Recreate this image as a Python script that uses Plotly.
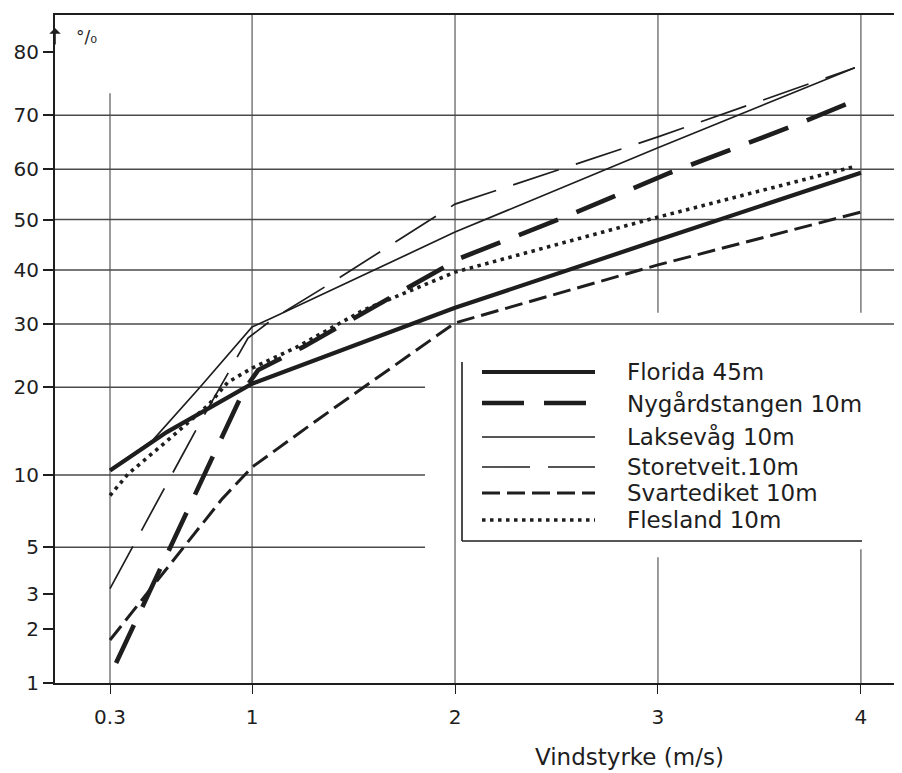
import plotly.graph_objects as go
from statistics import NormalDist

# ---------------- data (wind speed m/s, cumulative percent) ----------------
series_names = ["Florida 45m", "Nygårdstangen 10m", "Laksevåg 10m",
                "Storetveit.10m", "Svartediket 10m", "Flesland 10m"]

florida_x = [0.3, 0.58, 1.0, 2.0, 3.0, 4.0]
florida_y = [10.4, 14.3, 20.5, 32.9, 45.9, 59.3]

nygard_x = [0.33, 0.96, 1.03, 1.25, 1.72, 2.03, 2.54, 3.06, 3.68, 3.98]
nygard_y = [1.3, 19.6, 22.5, 26.1, 35.6, 42.4, 50.5, 59.3, 68.3, 72.6]

laksevag_x = [0.3, 0.51, 0.74, 1.0, 1.1, 2.0, 3.0, 3.97]
laksevag_y = [10.4, 13.4, 19.9, 29.5, 31.1, 47.5, 64.1, 77.7]

storetveit_x = [0.3, 0.75, 0.98, 1.11, 1.36, 2.0, 3.0, 3.97]
storetveit_y = [3.2, 15.7, 27.6, 31.1, 36.8, 53.1, 66.1, 77.7]

svartediket_x = [0.3, 0.85, 1.0, 1.32, 2.0, 3.0, 4.0]
svartediket_y = [1.74, 8.0, 10.7, 15.7, 30.2, 41.0, 51.5]

flesland_x = [0.3, 0.39, 0.585, 0.785, 0.88, 1.0, 1.22, 1.55, 2.0, 3.0, 3.96]
flesland_y = [8.3, 10.1, 13.4, 17.6, 20.7, 22.8, 26.1, 32.5, 39.6, 50.5, 60.4]

x_ticks = [0.3, 1, 2, 3, 4]
x_tick_labels = ["0.3", "1", "2", "3", "4"]
y_ticks = [1, 2, 3, 5, 10, 20, 30, 40, 50, 60, 70, 80]
y_tick_labels = ["1", "2", "3", "5", "10", "20", "30", "40", "50", "60", "70", "80"]

x_title = "Vindstyrke (m/s)"
y_unit = "°/₀"

# ---------------- probability (normal) scale ----------------
nd = NormalDist()


def prob(p):
    return nd.inv_cdf(p / 100.0)


INK = "#1e1e1e"
GRID = "#4a4a4a"
FONT = "DejaVu Sans"

styles = [
    dict(width=4.2, dash="solid"),
    dict(width=4.6, dash="42px,20px"),
    dict(width=1.7, dash="solid"),
    dict(width=1.7, dash="48px,18px"),
    dict(width=3.0, dash="18px,7px"),
    dict(width=3.6, dash="3.5px,4.5px"),
]

data = [(florida_x, florida_y), (nygard_x, nygard_y), (laksevag_x, laksevag_y),
        (storetveit_x, storetveit_y), (svartediket_x, svartediket_y),
        (flesland_x, flesland_y)]

fig = go.Figure()
for name, (xs, ys), st in zip(series_names, data, styles):
    fig.add_trace(go.Scatter(
        x=xs, y=[prob(v) for v in ys], mode="lines", name=name,
        line=dict(color=INK, width=st["width"], dash=st["dash"]),
        showlegend=False, hoverinfo="skip"))

X_MIN, X_MAX = 0.029, 4.2024
Y_MIN, Y_MAX = prob(1.0), 1.0271

shapes = []
# full-width horizontal grid lines
for p in [30, 40, 50, 60, 70]:
    shapes.append(dict(type="line", xref="paper", yref="y", x0=0, x1=1,
                       y0=prob(p), y1=prob(p), layer="below",
                       line=dict(color=GRID, width=1.5)))
# partial horizontal grid lines (stop before legend)
for p in [5, 10, 20]:
    shapes.append(dict(type="line", xref="x", yref="y", x0=X_MIN, x1=1.852,
                       y0=prob(p), y1=prob(p), layer="below",
                       line=dict(color=GRID, width=1.5)))
# vertical grid lines: (x, lower percent, upper percent)
vsegs = [(0.3, None, 73.7), (1, None, None), (2, None, None),
         (3, 32.0, None), (3, None, 4.5), (4, 32.0, None), (4, None, 4.9)]
for xv, lo, hi in vsegs:
    y0 = Y_MIN if lo is None else prob(lo)
    y1 = Y_MAX if hi is None else prob(hi)
    shapes.append(dict(type="line", xref="x", yref="y", x0=xv, x1=xv,
                       y0=y0, y1=y1, layer="below",
                       line=dict(color=GRID, width=1.1)))
# small ticks on right edge
for p in [80, 20, 10, 5, 3, 2]:
    shapes.append(dict(type="line", xref="paper", yref="y", x0=0.993, x1=1.0,
                       y0=prob(p), y1=prob(p),
                       line=dict(color=GRID, width=1.5)))


def px_x(px):
    return (px - 55) / 847.0


def px_y(py):
    return (683 - py) / 668.0


# legend frame (L shape)
shapes.append(dict(type="line", xref="paper", yref="paper",
                   x0=px_x(462), x1=px_x(462), y0=px_y(362), y1=px_y(541),
                   line=dict(color=INK, width=1.6)))
shapes.append(dict(type="line", xref="paper", yref="paper",
                   x0=px_x(462), x1=px_x(862), y0=px_y(541), y1=px_y(541),
                   line=dict(color=INK, width=1.6)))

annotations = []
row_y = [372, 403, 437, 467, 493, 520]
for name, st, ry in zip(series_names, styles, row_y):
    shapes.append(dict(type="line", xref="paper", yref="paper",
                       x0=px_x(482), x1=px_x(595), y0=px_y(ry), y1=px_y(ry),
                       line=dict(color=INK, width=st["width"], dash=st["dash"])))
    annotations.append(dict(xref="paper", yref="paper", x=px_x(625), y=px_y(ry),
                            text=name, showarrow=False, xanchor="left",
                            yanchor="middle",
                            font=dict(family=FONT, size=23, color=INK)))

annotations.append(dict(xref="paper", yref="paper", x=px_x(629), y=px_y(757),
                        text=x_title, showarrow=False, xanchor="center",
                        yanchor="middle",
                        font=dict(family=FONT, size=23, color=INK)))
annotations.append(dict(xref="paper", yref="paper", x=px_x(86), y=px_y(37),
                        text=y_unit, showarrow=False, xanchor="center",
                        yanchor="middle",
                        font=dict(family=FONT, size=17, color=INK)))
annotations.append(dict(xref="paper", yref="paper", x=0, y=px_y(28),
                        text="", showarrow=True, arrowhead=1, arrowsize=1.2,
                        arrowwidth=1.6, arrowcolor=INK, ax=0, ay=18))

# page has an 8px body margin: figure starts at (8, 8) in the window
fig.update_layout(
    width=894, height=765,
    margin=dict(l=47, r=0, t=7, b=90),
    paper_bgcolor="white", plot_bgcolor="white",
    shapes=shapes, annotations=annotations,
    font=dict(family=FONT, color=INK),
    xaxis=dict(range=[X_MIN, X_MAX], tickvals=x_ticks, ticktext=x_tick_labels,
               showgrid=False, zeroline=False, showline=True, linecolor=INK,
               linewidth=2.2, mirror=True, ticks="outside", ticklen=9,
               tickwidth=1.3, tickcolor=INK, ticklabelstandoff=6,
               tickfont=dict(family=FONT, size=20, color=INK), automargin=False),
    yaxis=dict(range=[Y_MIN, Y_MAX], tickvals=[prob(v) for v in y_ticks],
               ticktext=y_tick_labels, showgrid=False, zeroline=False,
               showline=True, linecolor=INK, linewidth=2.2, ticks="outside",
               ticklen=10, tickwidth=1.5, tickcolor=INK,
               tickfont=dict(family=FONT, size=20, color=INK), automargin=False),
)

fig.write_html("out.html")
